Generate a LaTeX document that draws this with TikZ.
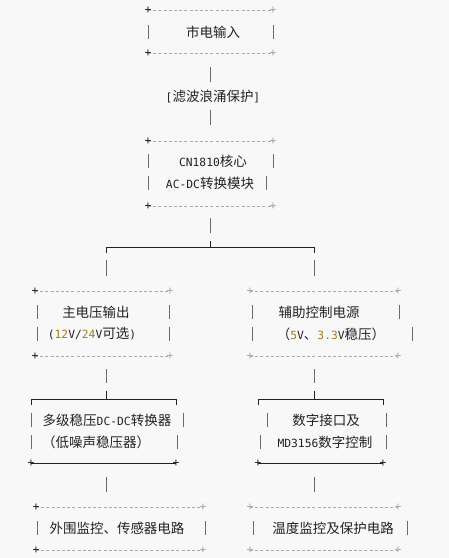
\documentclass[tikz,border=0pt]{standalone}
\usepackage{fontspec}
\setmainfont{Noto Sans CJK SC}
\newfontfamily\latmono{DejaVu Sans Mono}
\usepackage{tikz}
\usetikzlibrary{positioning}
\definecolor{pagebg}{HTML}{F8F8F8}
\definecolor{ink}{HTML}{222222}
\definecolor{rulegray}{HTML}{ABABAB}
\definecolor{bargray}{HTML}{6A6A6A}
\definecolor{volt}{HTML}{A67C1E}
\newcommand{\asc}[1]{{\latmono\fontsize{11.3}{14}\selectfont #1}}
\newcommand{\vnum}[1]{\textcolor{volt}{\asc{#1}}}
\tikzset{
  txt/.style={font=\fontsize{13.5}{16}\selectfont,text=ink,inner sep=0pt},
  dashrule/.style={draw=rulegray,line width=.6pt,dash pattern=on 3pt off 2.2pt},
  solidrule/.style={draw=ink,line width=.7pt},
  bar/.style={draw=bargray,line width=.9pt},
  plusdark/.style={text=ink,inner sep=0pt,font=\latmono\fontsize{11.3}{14}\selectfont},
  pluslight/.style={plusdark,text=rulegray}
}

\begin{document}
\begin{tikzpicture}[x=1pt,y=-1pt]
\fill[pagebg] (0,0) rectangle (449,558);
\useasboundingbox (0,0) rectangle (449,558);
% dashed box edges
\draw[dashrule] (148,10)--(273,10); \draw[dashrule] (148,53)--(273,53);
\node[plusdark] at (148,10) {+}; \node[pluslight] at (273,10) {+};
\node[plusdark] at (148,53) {+}; \node[pluslight] at (273,53) {+};
\draw[dashrule] (148,141)--(273,141); \draw[dashrule] (148,206)--(273,206);
\node[plusdark] at (148,141) {+}; \node[pluslight] at (273,141) {+};
\node[plusdark] at (148,206) {+}; \node[pluslight] at (273,206) {+};
\draw[dashrule] (35,291)--(170,291); \draw[dashrule] (35,356)--(170,356);
\node[plusdark] at (35,291) {+}; \node[pluslight] at (170,291) {+};
\node[plusdark] at (35,356) {+}; \node[pluslight] at (170,356) {+};
\draw[dashrule] (250,291)--(398,291); \draw[dashrule] (250,356)--(398,356);
\node[pluslight] at (250,291) {+}; \node[pluslight] at (398,291) {+};
\node[pluslight] at (250,356) {+}; \node[pluslight] at (398,356) {+};
\draw[dashrule] (36,507)--(203,507); \draw[dashrule] (36,550)--(203,550);
\node[plusdark] at (36,507) {+}; \node[pluslight] at (203,507) {+};
\node[plusdark] at (36,550) {+}; \node[pluslight] at (203,550) {+};
\draw[dashrule] (250,507)--(398,507); \draw[dashrule] (250,550)--(398,550);
\node[pluslight] at (250,507) {+}; \node[pluslight] at (398,507) {+};
\node[pluslight] at (250,550) {+}; \node[pluslight] at (398,550) {+};
% texts
\node[txt] (mains) at (213,32) {市电输入};
\node[txt] (filter) at (213,97) {\asc{[}滤波浪涌保护\asc{]}};
\node[txt] (core) at (213,161) {\asc{CN1810}核心};
\node[txt] (acdc) at (210,183) {\asc{AC-DC}转换模块};
\node[txt] (mainout) at (96,312) {主电压输出};
\node[txt] (mainsel) at (92,334) {\asc{(}\vnum{12}\asc{V/}\vnum{24}\asc{V}可选\asc{)}};
\node[txt] (auxpwr) at (319,312) {辅助控制电源};
\node[txt] (auxreg) at (331,334) {（\vnum{5}\asc{V}、\vnum{3.3}\asc{V}稳压）};
\node[txt] (dcdc) at (107,420) {多级稳压\asc{DC-DC}转换器};
\node[txt] (ldo) at (96,442) {（低噪声稳压器）};
\node[txt] (digif) at (326,420) {数字接口及};
\node[txt] (digctl) at (325,442) {\asc{MD3156}数字控制};
\node[txt] (periph) at (117,528) {外围监控、传感器电路};
\node[txt] (tempmon) at (333,528) {温度监控及保护电路};
% box sides
\draw[bar] (148,25)--(148,39); \draw[bar] (273,25)--(273,39);
\draw[bar] (148,154)--(148,168); \draw[bar] (273,154)--(273,168);
\draw[bar] (148,176)--(148,190); \draw[bar] (266,176)--(266,190);
\draw[bar] (37,305)--(37,319); \draw[bar] (169,305)--(169,319);
\draw[bar] (37,327)--(37,341); \draw[bar] (169,327)--(169,341);
\draw[bar] (252,305)--(252,319); \draw[bar] (399,305)--(399,319);
\draw[bar] (252,327)--(252,341); \draw[bar] (412,327)--(412,341);
\draw[bar] (31,413)--(31,427); \draw[bar] (183,413)--(183,427);
\draw[bar] (31,435)--(31,449); \draw[bar] (177,435)--(177,449);
\draw[bar] (267,413)--(267,427); \draw[bar] (386,413)--(386,427);
\draw[bar] (260,435)--(260,449); \draw[bar] (386,435)--(386,449);
\draw[bar] (37,521)--(37,535); \draw[bar] (205,521)--(205,535);
\draw[bar] (253,521)--(253,535); \draw[bar] (407,521)--(407,535);
% links
\draw[bar] (210,67)--(210,82); \draw[bar] (210,110)--(210,125);
\draw[bar] (210,218)--(210,233);
\draw[solidrule] (106,253)--(106,247)--(314,247)--(314,253); \draw[solidrule] (210,241)--(210,247);
\draw[bar] (106,260)--(106,276); \draw[bar] (314,260)--(314,276);
\draw[bar] (106,369)--(106,383); \draw[bar] (314,369)--(314,383);
\draw[solidrule] (31,405)--(31,399)--(176,399)--(176,405); \draw[solidrule] (106,391)--(106,399);
\draw[solidrule] (258,405)--(258,399)--(383,399)--(383,405); \draw[solidrule] (314,391)--(314,399);
\draw[solidrule] (31,463)--(176,463); \draw[solidrule] (258,463)--(383,463);
\node[plusdark] at (31,463) {+}; \node[plusdark] at (176,463) {+};
\node[plusdark] at (258,463) {+}; \node[plusdark] at (383,463) {+};
\draw[bar] (106,477)--(106,492); \draw[bar] (314,477)--(314,492);
\end{tikzpicture}
\end{document}
